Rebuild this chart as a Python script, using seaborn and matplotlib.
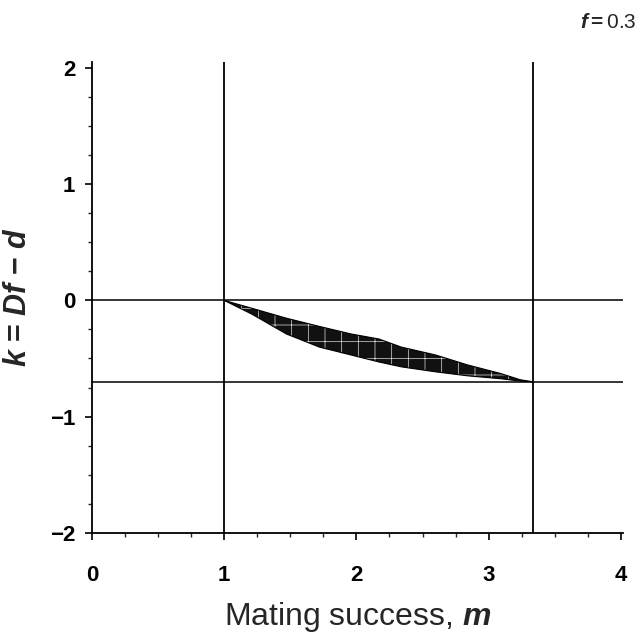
import matplotlib
matplotlib.use("Agg")
import matplotlib.pyplot as plt
import seaborn as sns
from matplotlib.ticker import MultipleLocator

# threshold lines
m_low = 1.0
m_high = 3.333
k_zero = 0.0
k_low = -0.7
f_label = "0.3"

# boundaries of the shaded region
m_vals = [1.0, 1.21, 1.47, 1.72, 1.96, 2.17, 2.34, 2.60, 2.84, 3.09, 3.24, 3.333]
k_upper = [0.0, -0.068, -0.153, -0.224, -0.289, -0.332, -0.402, -0.470, -0.555, -0.629, -0.683, -0.70]
k_lower = [0.0, -0.119, -0.289, -0.402, -0.470, -0.530, -0.572, -0.615, -0.649, -0.674, -0.695, -0.70]

sns.set_theme(style="ticks")
plt.rcParams["font.family"] = ["Liberation Sans", "DejaVu Sans"]
plt.rcParams["mathtext.fontset"] = "custom"
plt.rcParams["mathtext.it"] = "Liberation Sans:bold:italic"
plt.rcParams["mathtext.rm"] = "Liberation Sans:bold"
plt.rcParams["hatch.linewidth"] = 0.5

fig = plt.figure(figsize=(6.44, 6.35), dpi=100)
ax = fig.add_axes([0.143, 0.161, 0.825, 0.741])

ax.fill_between(m_vals, k_lower, k_upper, facecolor="#111111",
                edgecolor="#dddddd", hatch="+", linewidth=0)
sns.lineplot(x=m_vals, y=k_upper, ax=ax, color="black", lw=0.8)
sns.lineplot(x=m_vals, y=k_lower, ax=ax, color="black", lw=0.8)

for m in [m_low, m_high]:
    ax.axvline(m, color="black", lw=1.3)
for k in [k_zero, k_low]:
    ax.axhline(k, color="black", lw=1.1)

ax.set_xlim(0, 4.02)
ax.set_ylim(-2, 2.05)
ax.xaxis.set_major_locator(MultipleLocator(1))
ax.xaxis.set_minor_locator(MultipleLocator(0.25))
ax.yaxis.set_major_locator(MultipleLocator(1))
ax.yaxis.set_minor_locator(MultipleLocator(0.25))
ax.tick_params(which="major", direction="out", length=5, width=1.2,
               labelsize=16, colors="black")
ax.tick_params(axis="x", which="major", pad=18)
ax.tick_params(axis="y", which="major", pad=7)
ax.tick_params(which="minor", direction="out", length=3, width=1)
for lab in ax.get_xticklabels() + ax.get_yticklabels():
    lab.set_fontweight("bold")

sns.despine(ax=ax)
for s in ["left", "bottom"]:
    ax.spines[s].set_linewidth(1.3)
    ax.spines[s].set_color("black")

ax.set_xlabel(r"Mating success, $m$", fontsize=23, labelpad=10)
ax.set_ylabel(r"$k$ = $Df$ $-$ $d$", fontsize=22, fontweight="bold", labelpad=12)

fig.text(0.988, 0.965, r"$f$$\mathrm{=}$" + f_label,
         ha="right", va="center", fontsize=15)

fig.savefig("out.png", dpi=100, facecolor="white")
